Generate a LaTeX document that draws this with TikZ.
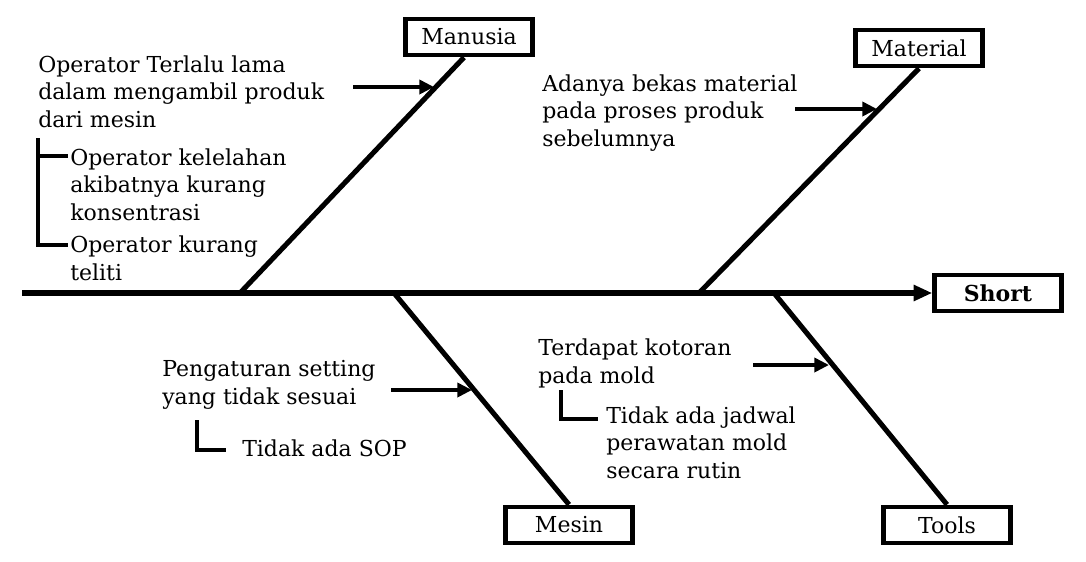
\documentclass[tikz,border=0pt]{standalone}
\usepackage{fontspec}
\setmainfont{DejaVu Serif}
\usetikzlibrary{arrows.meta}

\tikzset{
  box/.style={draw, line width=3.6pt, minimum width=95pt, minimum height=27pt, inner sep=0pt},
  bone/.style={line width=3.8pt},
  cause/.style={anchor=base west, align=left, inner sep=0pt},
  push/.style={line width=3pt, -{Triangle[length=11pt,width=10.5pt]}},
  brk/.style={line width=2.6pt},
}

\begin{document}
\begin{tikzpicture}[x=0.75pt, y=-0.75pt, font=\fontsize{16.5}{20.6}\selectfont]
\useasboundingbox (0,0) rectangle (1086,561);

% category boxes
\node[box] (manusia) at (469,37) {Manusia};
\node[box] (material) at (919,48) {Material};
\node[box] (mesin) at (569,525) {Mesin};
\node[box] (tools) at (947,525) {Tools};
\node[box, font=\fontsize{16.5}{20.6}\selectfont\bfseries] (short) at (998,293) {Short};

% spine
\coordinate (tail) at (22,293);
\draw[line width=4pt, -{Triangle[length=14pt,width=11.5pt]}] (tail) -- (short.west);

% bones
\coordinate (sman) at (240,293);
\coordinate (smat) at (699,293);
\coordinate (smes) at (394,293);
\coordinate (stoo) at (774,293);
\draw[bone] (sman) -- ([xshift=-3.75pt]manusia.south);
\draw[bone] (smat) -- (material.south);
\draw[bone] (smes) -- (mesin.north);
\draw[bone] (stoo) -- (tools.north);

% causes (base = baseline of the last line)
\node[cause] (cman) at (38,127) {Operator Terlalu lama\\dalam mengambil produk\\dari mesin};
\node[cause] (cman1) at (70,220) {Operator kelelahan\\akibatnya kurang\\konsentrasi};
\node[cause] (cman2) at (70,280) {Operator kurang\\teliti};
\node[cause] (cmat) at (542,146) {Adanya bekas material\\pada proses produk\\sebelumnya};
\node[cause] (cmes) at (162,404) {Pengaturan setting\\yang tidak sesuai};
\node[cause] (cmes1) at (242,456) {Tidak ada SOP};
\node[cause] (ctoo) at (538,383) {Terdapat kotoran\\pada mold};
\node[cause] (ctoo1) at (606,478) {Tidak ada jadwal\\perawatan mold\\secara rutin};

% arrows onto the bones
\coordinate (pman) at (353,87);  \coordinate (qman) at (434,87);
\coordinate (pmat) at (795,109); \coordinate (qmat) at (877,109);
\coordinate (pmes) at (391,390); \coordinate (qmes) at (472,390);
\coordinate (ptoo) at (753,365); \coordinate (qtoo) at (829,365);
\draw[push] (pman) -- (qman);
\draw[push] (pmat) -- (qmat);
\draw[push] (pmes) -- (qmes);
\draw[push] (ptoo) -- (qtoo);

% sub-cause brackets
\draw[brk] (38,138) -- (38,245) -- (68,245);
\draw[brk] (38,156) -- (68,156);
\draw[brk] (197,420) -- (197,450) -- (226,450);
\draw[brk] (561,390) -- (561,419) -- (598,419);

\end{tikzpicture}
\end{document}
